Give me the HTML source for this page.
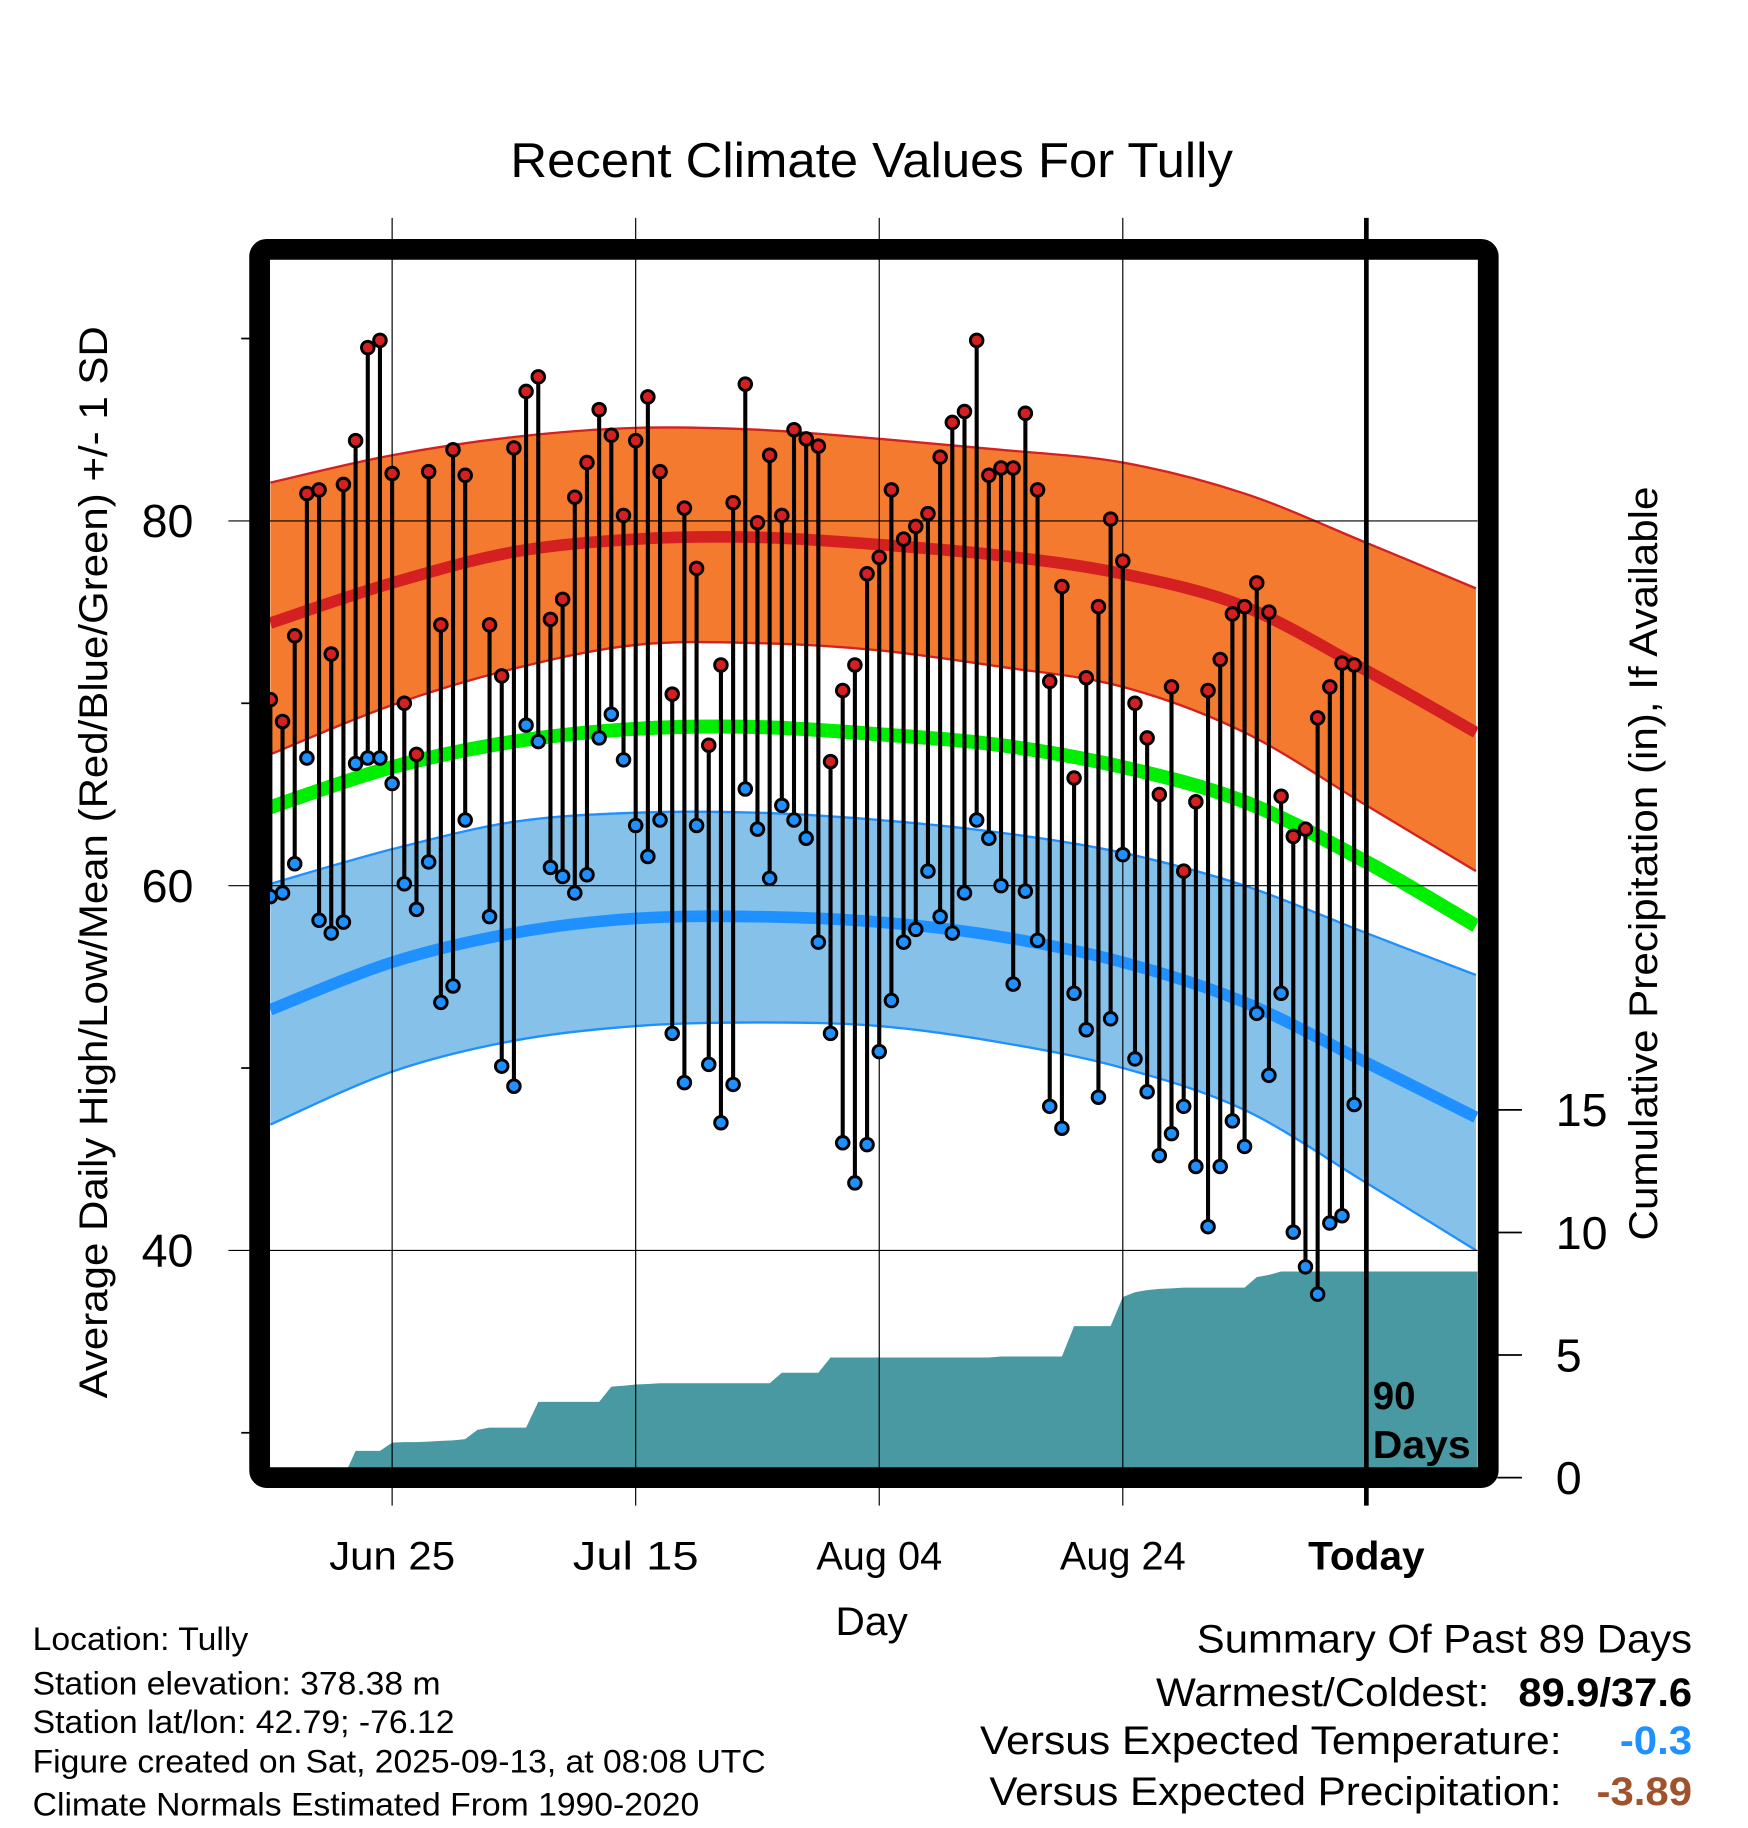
<!DOCTYPE html>
<html><head><meta charset="utf-8"><style>
html,body{margin:0;padding:0;background:#fff;}
svg{display:block;font-family:"Liberation Sans",sans-serif;}
</style></head><body>
<svg id="chart" width="1748" height="1828" viewBox="0 0 1500 1568.65" xmlns="http://www.w3.org/2000/svg">
<rect width="1500" height="1568.65" fill="#fff"/>
<text x="748" y="152" font-size="42" text-anchor="middle" textLength="620" lengthAdjust="spacingAndGlyphs">Recent Climate Values For Tully</text>
<g id="plot"></g>
<text x="748" y="1403" font-size="34" text-anchor="middle" textLength="62" lengthAdjust="spacingAndGlyphs">Day</text>
<text transform="translate(92,740) rotate(-90)" font-size="34" text-anchor="middle" textLength="920" lengthAdjust="spacingAndGlyphs">Average Daily High/Low/Mean (Red/Blue/Green) +/- 1 SD</text>
<text transform="translate(1422,741) rotate(-90)" font-size="34" text-anchor="middle" textLength="647" lengthAdjust="spacingAndGlyphs">Cumulative Precipitation (in), If Available</text>
<g font-size="28" lengthAdjust="spacingAndGlyphs">
<text x="28" y="1416" textLength="185" lengthAdjust="spacingAndGlyphs">Location: Tully</text>
<text x="28" y="1454" textLength="350" lengthAdjust="spacingAndGlyphs">Station elevation: 378.38 m</text>
<text x="28" y="1487" textLength="362" lengthAdjust="spacingAndGlyphs">Station lat/lon: 42.79; -76.12</text>
<text x="28" y="1521" textLength="629" lengthAdjust="spacingAndGlyphs">Figure created on Sat, 2025-09-13, at 08:08 UTC</text>
<text x="28" y="1558" textLength="572" lengthAdjust="spacingAndGlyphs">Climate Normals Estimated From 1990-2020</text>
</g>
<g font-size="34">
<text x="1027" y="1418" textLength="425" lengthAdjust="spacingAndGlyphs">Summary Of Past 89 Days</text>
<text x="992" y="1464" textLength="286" lengthAdjust="spacingAndGlyphs">Warmest/Coldest:</text>
<text x="1303" y="1464" font-weight="bold" textLength="149" lengthAdjust="spacingAndGlyphs">89.9/37.6</text>
<text x="841" y="1505" textLength="499" lengthAdjust="spacingAndGlyphs">Versus Expected Temperature:</text>
<text x="1390" y="1505" font-weight="bold" fill="#1e90ff" textLength="62" lengthAdjust="spacingAndGlyphs">-0.3</text>
<text x="849" y="1549" textLength="491" lengthAdjust="spacingAndGlyphs">Versus Expected Precipitation:</text>
<text x="1370" y="1549" font-weight="bold" fill="#a0522d" textLength="82" lengthAdjust="spacingAndGlyphs">-3.89</text>
</g>
</svg>
<script>
// ---- data ----
const xTickLabels = ["Jun 25","Jul 15","Aug 04","Aug 24","Today"];
const xTickDays = [10,30,50,70,90];
const yTickLabels = [40,60,80];
const yMinorTicks = [30,50,70,90];
const pTickLabels = [0,5,10,15];
const highs = [70.2,69.0,73.7,81.5,81.7,72.7,82.0,84.4,89.5,89.9,82.6,70.0,67.2,82.7,74.3,83.9,82.5,null,74.3,71.5,84.0,87.1,87.9,74.6,75.7,81.3,83.2,86.1,84.7,80.3,84.4,86.8,82.7,70.5,80.7,77.4,67.7,72.1,81.0,87.5,79.9,83.6,80.3,85.0,84.5,84.1,66.8,70.7,72.1,77.1,78.0,81.7,79.0,79.7,80.4,83.5,85.4,86.0,89.9,82.5,82.9,82.9,85.9,81.7,71.2,76.4,65.9,71.4,75.3,80.1,77.8,70.0,68.1,65.0,70.9,60.8,64.6,70.7,72.4,74.9,75.3,76.6,75.0,64.9,62.7,63.1,69.2,70.9,72.2,72.1];
const lows = [59.4,59.6,61.2,67.0,58.1,57.4,58.0,66.7,67.0,67.0,65.6,60.1,58.7,61.3,53.6,54.5,63.6,null,58.3,50.1,49.0,68.8,67.9,61.0,60.5,59.6,60.6,68.1,69.4,66.9,63.3,61.6,63.6,51.9,49.2,63.3,50.2,47.0,49.1,65.3,63.1,60.4,64.4,63.6,62.6,56.9,51.9,45.9,43.7,45.8,50.9,53.7,56.9,57.6,60.8,58.3,57.4,59.6,63.6,62.6,60.0,54.6,59.7,57.0,47.9,46.7,54.1,52.1,48.4,52.7,61.7,50.5,48.7,45.2,46.4,47.9,44.6,41.3,44.6,47.1,45.7,53.0,49.6,54.1,41.0,39.1,37.6,41.5,41.9,48.0];
const normDays = [0,10,20,30,40,50,60,70,80,90,99];
const normHigh = [74.4,76.6,78.3,79.0,79.1,78.7,78.1,77.1,75.3,71.8,68.4];
const normHighUpper = [82.1,83.6,84.6,85.1,85.0,84.5,83.9,83.2,81.5,78.8,76.3];
const normHighLower = [67.2,69.9,71.9,73.2,73.3,72.9,72.0,70.9,68.4,64.4,60.8];
const normMean = [64.3,66.5,67.9,68.6,68.7,68.3,67.7,66.5,64.6,61.3,57.8];
const normLow = [53.2,55.8,57.4,58.2,58.3,58.0,57.2,55.8,53.6,50.3,47.3];
const normLowUpper = [60.1,62.0,63.5,64.0,64.0,63.6,62.9,61.8,60.0,57.4,55.1];
const normLowLower = [46.9,49.8,51.5,52.3,52.5,52.3,51.4,50.0,47.7,43.7,40.0];
const precipCum = [0,0,0,0,0,0,0,1.09,1.09,1.09,1.43,1.45,1.45,1.47,1.50,1.52,1.57,1.95,2.04,2.04,2.04,2.04,3.09,3.09,3.09,3.09,3.09,3.09,3.71,3.75,3.80,3.82,3.85,3.85,3.85,3.85,3.85,3.85,3.85,3.85,3.85,3.85,4.28,4.28,4.28,4.28,4.90,4.90,4.90,4.90,4.90,4.90,4.90,4.90,4.90,4.90,4.90,4.90,4.90,4.90,4.94,4.94,4.94,4.94,4.94,4.94,6.18,6.18,6.18,6.18,7.37,7.56,7.65,7.70,7.72,7.75,7.75,7.75,7.75,7.75,7.75,8.18,8.27,8.41,8.41,8.41,8.41,8.41,8.41,8.41];

// ---- scales ----
const X0 = 232, DX = 10.45;
const xs = d => X0 + DX*d;
const ys = t => 447 + (80 - t)*15.65;
const ps = p => 1268 - p*21.04;
const L = 231.7, R = 1268, T = 223, B = 1259.5;
const NS = 'http://www.w3.org/2000/svg';
const plot = document.getElementById('plot');
function mk(tag, attrs, parent){
  const e = document.createElementNS(NS, tag);
  for (const k in attrs) e.setAttribute(k, attrs[k]);
  (parent||plot).appendChild(e); return e;
}
function smooth(days, vals){
  const pts = days.map((d,i)=>[Math.min(Math.max(xs(d),L),R), ys(vals[i])]);
  let s = 'M'+pts[0][0]+','+pts[0][1];
  for (let i=0;i<pts.length-1;i++){
    const p0=pts[Math.max(i-1,0)],p1=pts[i],p2=pts[i+1],p3=pts[Math.min(i+2,pts.length-1)];
    const c1=[p1[0]+(p2[0]-p0[0])/6,p1[1]+(p2[1]-p0[1])/6];
    const c2=[p2[0]-(p3[0]-p1[0])/6,p2[1]-(p3[1]-p1[1])/6];
    s+=' C'+c1+' '+c2+' '+p2;
  }
  return s;
}
function band(days, up, lo){
  const a = smooth(days, up);
  const rd = days.slice().reverse(), rl = lo.slice().reverse();
  return a + ' L' + smooth(rd, rl).slice(1) + ' Z';
}
const clip = mk('clipPath',{id:'pc'}); mk('rect',{x:L,y:T,width:R-L,height:B-T},clip);
const g = mk('g',{'clip-path':'url(#pc)'});

let el;
el = mk('path',{d:band(normDays,normHighUpper,normHighLower),fill:'#f47a30'},g);


el = mk('path',{d:band(normDays,normLowUpper,normLowLower),fill:'#85c1e9'},g);


[[normHighUpper,'#d42020',2],[normHighLower,'#d42020',2],[normLowUpper,'#1e90ff',2],[normLowLower,'#1e90ff',2]].forEach(([v,c,w])=>{
  el = mk('path',{d:smooth(normDays,v),fill:'none',stroke:c,'stroke-width':w},g);
  
  
});
el = mk('path',{d:smooth(normDays,normHigh),fill:'none',stroke:'#d42020','stroke-width':10},g);


el = mk('path',{d:smooth(normDays,normMean),fill:'none',stroke:'#00ee00','stroke-width':12},g);


el = mk('path',{d:smooth(normDays,normLow),fill:'none',stroke:'#1e90ff','stroke-width':10},g);



let pd = 'M'+xs(0)+','+ps(0);
precipCum.forEach((p,i)=>{ pd += ' L'+xs(i)+','+ps(p); });
pd += ' L'+R+','+ps(precipCum[precipCum.length-1])+' L'+R+','+B+' L'+L+','+B+' Z';
el = mk('path',{d:pd,fill:'#4899a2'},g);



xTickDays.forEach((d,i)=>{
  const x = xs(d);
  el = mk('line',{x1:x,y1:187,x2:x,y2:1292,stroke:'#000','stroke-width':i===4?4:1});
  
  
  el = mk('text',{x:x,y:1347,'font-size':34,'text-anchor':'middle','font-weight':i===4?'bold':'normal',textLength:i===4?100:108,lengthAdjust:'spacingAndGlyphs'});
  el.textContent = xTickLabels[i];
  
  
});
yTickLabels.forEach(t=>{
  const y = ys(t);
  el = mk('line',{x1:196,y1:y,x2:R,y2:y,stroke:'#000','stroke-width':1});
  
  
  el = mk('text',{x:166,y:y+14,'font-size':40,'text-anchor':'end'});
  el.textContent = t;
  
  
});
yMinorTicks.forEach(t=>{
  el = mk('line',{x1:207,y1:ys(t),x2:216,y2:ys(t),stroke:'#000','stroke-width':1.5});
  
  
});
pTickLabels.forEach(p=>{
  const y = ps(p);
  el = mk('line',{x1:1285,y1:y,x2:1306,y2:y,stroke:'#000','stroke-width':1.5});
  
  
  el = mk('text',{x:1335,y:y+14,'font-size':40});
  el.textContent = p;
  
  
});

highs.forEach((h,i)=>{
  const lo = lows[i];
  if (h==null || lo==null) return;
  const x = xs(i);
  el = mk('line',{x1:x,y1:ys(h),x2:x,y2:ys(lo),stroke:'#000','stroke-width':3.5});
  
  
  el = mk('circle',{cx:x,cy:ys(h),r:5.4,fill:'#d42020',stroke:'#000','stroke-width':2.5});
  
  
  el = mk('circle',{cx:x,cy:ys(lo),r:5.4,fill:'#1e90ff',stroke:'#000','stroke-width':2.5});
  
  
});

el = mk('text',{x:1178,y:1209,'font-size':33,'font-weight':'bold'});
el.textContent = '90';


el = mk('text',{x:1178,y:1251,'font-size':33,'font-weight':'bold',textLength:84,lengthAdjust:'spacingAndGlyphs'});
el.textContent = 'Days';



el = mk('rect',{x:222.8,y:214,width:1054.3,height:1054,rx:6,fill:'none',stroke:'#000','stroke-width':17.8});


</script>
</body></html>
